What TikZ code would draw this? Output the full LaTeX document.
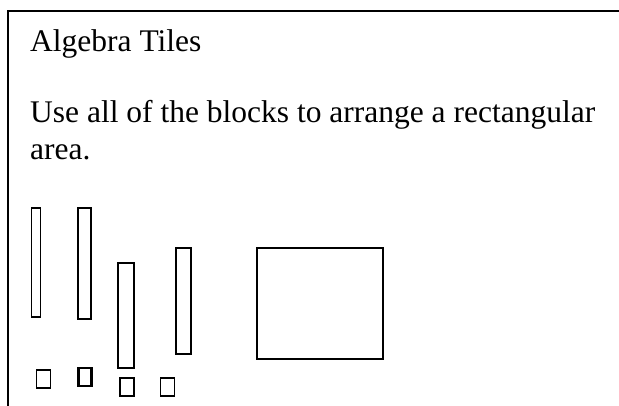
\documentclass[tikz,border=0pt]{standalone}
\usepackage{fontspec}
\setmainfont{Liberation Serif}
\begin{document}
\begin{tikzpicture}[x=1pt,y=-1pt,
  frame/.style={line width=1.6pt},
  tile/.style={draw, line width=1.8pt, inner sep=0pt, outer sep=0pt},
  label/.style={anchor=base west, inner sep=0pt, font=\fontsize{31.5}{36}\selectfont}]
  \useasboundingbox (0,0) rectangle (619,406);
  % open frame: left side and top edge
  \coordinate (fb) at (8,406);
  \coordinate (fc) at (8,11);
  \coordinate (fr) at (620,11);
  \draw[frame] (fb) -- (fc) -- (fr);
  % text
  \node[label] (title) at (30,52) {Algebra Tiles};
  \node[label] (line1) at (30,123) {Use all of the blocks to arrange a rectangular};
  \node[label] (line2) at (30,160) {area.};
  % long strips
  \node[tile, minimum width=9pt,    minimum height=109.5pt] (t1) at (36,262.5) {};
  \node[tile, minimum width=13.5pt, minimum height=111.5pt] (t2) at (84.5,263.5) {};
  \node[tile, minimum width=16pt,   minimum height=105.5pt] (t3) at (126,315.5) {};
  \node[tile, minimum width=15.5pt, minimum height=106.5pt] (t4) at (183.5,301) {};
  % large square
  \node[tile, minimum width=126.5pt, minimum height=111.5pt] (big) at (320,303.5) {};
  % small unit squares
  \node[tile, minimum width=14pt, minimum height=18.5pt] (s1) at (43.5,379) {};
  \node[tile, line width=2.6pt, minimum width=12.5pt, minimum height=18pt] (s2) at (85,377) {};
  \node[tile, minimum width=14pt, minimum height=18.5pt] (s3) at (127,387) {};
  \node[tile, minimum width=14pt, minimum height=18.5pt] (s4) at (167.5,387) {};
\end{tikzpicture}
\end{document}
